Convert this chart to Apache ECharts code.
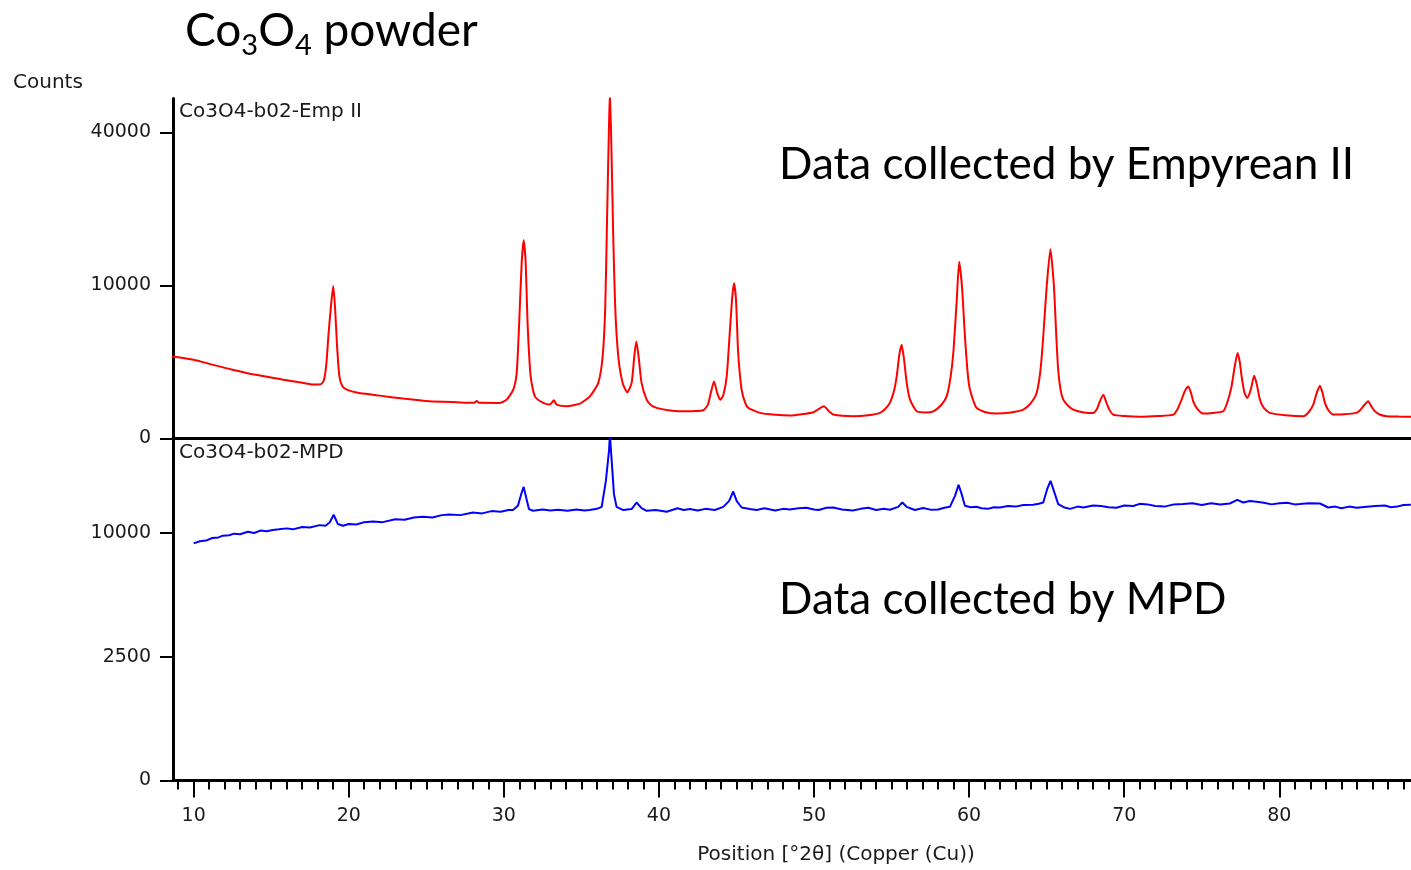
<!DOCTYPE html>
<html>
<head>
<meta charset="utf-8">
<title>Co3O4 powder</title>
<script src="https://cdn.jsdelivr.net/npm/echarts@6.0.0/dist/echarts.min.js"></script>
<style>
html, body { margin: 0; padding: 0; background: #fff; }
#main { width: 1411px; height: 870px; }
</style>
</head>
<body>
<div id="main"></div>
<script>
// [2theta, counts]
var empPoints = [
  [8.6, 2870], [10.0, 2650], [11.2, 2330], [12.5, 2020], [14.0, 1730],
  [15.8, 1475], [17.0, 1330], [17.7, 1250], [18.2, 1260], [18.4, 1450],
  [18.56, 2400], [18.7, 4700], [18.85, 7400], [19.0, 9940], [19.12, 7300],
  [19.25, 3600], [19.4, 1650], [19.6, 1150], [19.88, 1020], [20.5, 900],
  [22.0, 785], [23.5, 680], [25.2, 590], [27.0, 560], [28.1, 545],
  [28.25, 600], [28.4, 545], [29.75, 541], [30.18, 645], [30.61, 1020],
  [30.83, 1850], [30.99, 5710], [31.15, 13150], [31.28, 16800], [31.41, 13150],
  [31.53, 5710], [31.73, 1650], [32.0, 760], [32.54, 540], [32.97, 491],
  [33.23, 622], [33.4, 491], [34.05, 443], [34.91, 520], [35.55, 760],
  [36.09, 1320], [36.37, 2870], [36.54, 7430], [36.65, 19800], [36.76, 37950],
  [36.84, 52000], [36.95, 33820], [37.05, 18010], [37.18, 7430], [37.38, 2870],
  [37.66, 1320], [37.96, 910], [38.24, 1320], [38.41, 2870], [38.54, 4020],
  [38.69, 2870], [38.88, 1320], [39.21, 645], [39.5, 470], [39.85, 400],
  [40.6, 340], [41.35, 316], [42.2, 320], [42.86, 340], [43.15, 480],
  [43.35, 900], [43.55, 1390], [43.75, 900], [43.95, 640], [44.15, 800],
  [44.37, 1650], [44.58, 5040], [44.73, 8590], [44.84, 10290], [44.97, 8200],
  [45.11, 3120], [45.33, 1020], [45.55, 560], [45.76, 400], [46.52, 280],
  [47.5, 240], [48.45, 225], [49.2, 250], [49.95, 294], [50.3, 370],
  [50.64, 443], [50.95, 320], [51.24, 244], [52.53, 211], [53.5, 230],
  [54.25, 280], [54.6, 380], [54.89, 541], [55.15, 950], [55.33, 1650],
  [55.5, 3000], [55.65, 3750], [55.8, 2700], [55.98, 1300], [56.19, 645],
  [56.62, 316], [57.2, 290], [57.69, 316], [58.2, 480], [58.55, 760],
  [58.8, 1600], [58.98, 3120], [59.19, 7815], [59.36, 13340], [59.54, 9840],
  [59.73, 4440], [59.88, 2100], [60.01, 1160], [60.25, 640], [60.48, 400],
  [61.0, 300], [61.77, 265], [62.7, 290], [63.49, 357], [63.95, 520],
  [64.35, 886], [64.6, 2000], [64.78, 4440], [65.0, 9840], [65.24, 15280],
  [65.47, 9840], [65.62, 4500], [65.74, 2020], [65.9, 1000], [66.07, 645],
  [66.4, 450], [66.71, 357], [67.4, 290], [68.0, 280], [68.25, 380],
  [68.43, 590], [68.65, 822], [68.86, 541], [69.05, 350], [69.29, 244],
  [70.0, 215], [71.01, 200], [72.2, 215], [73.16, 244], [73.45, 380],
  [73.7, 645], [73.92, 980], [74.13, 1160], [74.3, 900], [74.45, 590],
  [74.7, 380], [75.09, 265], [75.7, 280], [76.38, 316], [76.65, 560],
  [76.92, 1160], [77.12, 2200], [77.31, 3120], [77.45, 2500], [77.57, 1650],
  [77.75, 900], [77.93, 703], [78.15, 1000], [78.38, 1685], [78.55, 1250],
  [78.75, 645], [79.0, 400], [79.39, 280], [80.4, 230], [81.54, 211],
  [81.9, 300], [82.19, 491], [82.42, 900], [82.62, 1190], [82.78, 900],
  [82.94, 541], [83.15, 350], [83.48, 244], [84.2, 250], [84.98, 280],
  [85.2, 340], [85.41, 443], [85.73, 590], [85.95, 430], [86.16, 316],
  [86.5, 240], [86.92, 211], [87.7, 205], [88.5, 200]
];

var mpdPoints = [
  [10.0, 9180], [10.4, 9350], [10.8, 9400], [11.2, 9600], [11.6, 9650],
  [11.89, 9790], [12.3, 9820], [12.6, 9950], [13.0, 9900], [13.5, 10100],
  [13.9, 10000], [14.3, 10200], [14.7, 10150], [15.11, 10245], [15.5, 10300],
  [16.0, 10380], [16.4, 10300], [17.0, 10500], [17.5, 10450], [18.12, 10650],
  [18.5, 10600], [18.77, 10870], [19.03, 11530], [19.3, 10740], [19.63, 10600],
  [20.0, 10750], [20.5, 10700], [21.0, 10900], [21.56, 10960], [22.2, 10900],
  [23.0, 11150], [23.6, 11100], [24.2, 11300], [24.78, 11360], [25.4, 11300],
  [26.0, 11500], [26.5, 11550], [27.2, 11500], [28.01, 11730], [28.6, 11650],
  [29.2, 11850], [29.8, 11800], [30.3, 11950], [30.59, 11940], [30.91, 12320],
  [31.12, 13390], [31.28, 14080], [31.44, 13080], [31.62, 12030], [31.88, 11880],
  [32.5, 12000], [33.0, 11900], [33.5, 11980], [34.1, 11880], [34.7, 12000],
  [35.2, 11900], [35.53, 11940], [36.0, 12050], [36.31, 12230], [36.58, 14660],
  [36.78, 17740], [36.84, 19500], [36.97, 16340], [37.1, 13390], [37.27, 12230],
  [37.7, 11940], [38.24, 12030], [38.56, 12620], [38.88, 12120], [39.21, 11880],
  [39.8, 11950], [40.5, 11800], [41.2, 12100], [41.6, 11950], [42.0, 12030],
  [42.5, 11900], [43.0, 12050], [43.6, 11950], [44.15, 12230], [44.53, 12770],
  [44.79, 13640], [45.01, 12770], [45.33, 12170], [45.86, 12030], [46.3, 11950],
  [46.8, 12100], [47.5, 11900], [48.0, 12050], [48.45, 11990], [49.0, 12100],
  [49.5, 12150], [50.0, 12000], [50.3, 11950], [50.8, 12150], [51.24, 12170],
  [51.8, 12000], [52.5, 11900], [53.0, 12050], [53.5, 12150], [54.0, 11950],
  [54.5, 12050], [54.89, 11970], [55.43, 12230], [55.69, 12620], [55.97, 12230],
  [56.5, 11950], [57.04, 12120], [57.5, 11980], [58.0, 12000], [58.4, 12150],
  [58.76, 12230], [59.09, 13230], [59.32, 14280], [59.52, 13390], [59.73, 12320],
  [60.1, 12200], [60.48, 12230], [60.8, 12100], [61.2, 12050], [61.6, 12200],
  [61.99, 12170], [62.5, 12300], [63.0, 12250], [63.5, 12400], [64.13, 12410],
  [64.5, 12500], [64.78, 12620], [65.03, 13860], [65.25, 14660], [65.47, 13670],
  [65.74, 12480], [66.1, 12200], [66.5, 12050], [67.0, 12250], [67.36, 12170],
  [68.0, 12350], [68.5, 12300], [69.0, 12200], [69.5, 12150], [70.0, 12350],
  [70.58, 12300], [71.0, 12500], [71.5, 12450], [72.0, 12300], [72.6, 12250],
  [73.2, 12450], [73.8, 12480], [74.4, 12550], [75.0, 12400], [75.6, 12550],
  [76.2, 12450], [76.81, 12530], [77.29, 12860], [77.67, 12620], [78.1, 12750],
  [78.54, 12680], [79.0, 12600], [79.5, 12450], [80.0, 12550], [80.5, 12600],
  [81.0, 12450], [81.33, 12480], [81.9, 12550], [82.62, 12530], [83.15, 12170],
  [83.6, 12250], [84.0, 12100], [84.5, 12250], [85.0, 12150], [85.63, 12230],
  [86.2, 12300], [86.8, 12350], [87.2, 12200], [87.6, 12250], [88.0, 12400],
  [88.48, 12410]
];

var xTicks = [10, 20, 30, 40, 50, 60, 70, 80];
var empTicks = [0, 10000, 40000];
var mpdTicks = [0, 2500, 10000];

var xMin = 8.67, xMax = 88.49;
var empMax = 49370;
var mpdMax = 19100;

// counts are shown on a square-root scale
function sq(points) {
  return points.map(function (p) { return [p[0], Math.sqrt(p[1])]; });
}
var minorTicks = [];
for (var d = 9; d <= 88; d++) minorTicks.push(d);

var smallFont = 'DejaVu Sans';
var bigFont = 'Lato';
var ink = '#1a1a1a';

function yAxis(grid, max, ticks) {
  var vals = ticks.map(Math.sqrt);
  return {
    type: 'value', gridIndex: grid, min: 0, max: Math.sqrt(max),
    axisLine: { show: true, lineStyle: { color: '#000', width: 3 } },
    axisTick: { show: true, customValues: vals, length: 13, lineStyle: { color: '#000', width: 2 } },
    axisLabel: {
      customValues: vals, margin: 22, fontSize: 19, color: ink, fontFamily: smallFont,
      formatter: function (v) { return String(Math.round(v * v)); }
    },
    splitLine: { show: false }
  };
}

function plainX(grid, pos, width) {
  return {
    type: 'value', gridIndex: grid, position: pos, min: xMin, max: xMax,
    axisLine: { show: true, lineStyle: { color: '#000', width: width } },
    axisTick: { show: false }, axisLabel: { show: false }, splitLine: { show: false }
  };
}

var chart = echarts.init(document.getElementById('main'));
chart.setOption({
  animation: false,
  title: {
    text: '{a|Co}{s|3}{a|O}{s|4}{a| powder}',
    left: 180, top: 3,
    textStyle: {
      rich: {
        a: { fontSize: 46, fontFamily: bigFont, fontWeight: 'normal', color: '#000', verticalAlign: 'bottom', padding: [0, 0, 6, 0] },
        s: { fontSize: 29, fontFamily: bigFont, fontWeight: 'normal', color: '#000', verticalAlign: 'bottom' }
      }
    }
  },
  grid: [
    { left: 173, right: 0, top: 98.5, height: 340 },
    { left: 173, right: 0, top: 438.5, height: 342 }
  ],
  xAxis: [
    plainX(0, 'top', 3),
    plainX(0, 'bottom', 2),
    {
      type: 'value', gridIndex: 1, position: 'bottom', min: xMin, max: xMax,
      axisLine: { show: true, lineStyle: { color: '#000', width: 3 } },
      axisTick: { show: true, customValues: xTicks, length: 17, lineStyle: { color: '#000', width: 2 } },
      axisLabel: { customValues: xTicks, margin: 26, fontSize: 19, color: ink, fontFamily: smallFont },
      splitLine: { show: false }
    },
    {
      type: 'value', gridIndex: 1, position: 'bottom', min: xMin, max: xMax,
      axisLine: { show: false },
      axisTick: { show: true, customValues: minorTicks, length: 9, lineStyle: { color: '#000', width: 2 } },
      axisLabel: { show: false }, splitLine: { show: false }
    }
  ],
  yAxis: [
    yAxis(0, empMax, empTicks),
    yAxis(1, mpdMax, mpdTicks)
  ],
  series: [
    {
      name: 'Co3O4-b02-Emp II', type: 'line', xAxisIndex: 0, yAxisIndex: 0,
      data: sq(empPoints), showSymbol: false, clip: true, smooth: 0.2,
      lineStyle: { color: '#ff0000', width: 2 }
    },
    {
      name: 'Co3O4-b02-MPD', type: 'line', xAxisIndex: 2, yAxisIndex: 1,
      data: sq(mpdPoints), showSymbol: false, clip: true,
      lineStyle: { color: '#0000ff', width: 2 }
    }
  ],
  graphic: [
    { type: 'text', x: 13, y: 83, style: { text: 'Counts', font: '20px "DejaVu Sans"', fill: ink, textVerticalAlign: 'middle' } },
    { type: 'text', x: 179, y: 112, style: { text: 'Co3O4-b02-Emp II', font: '20px "DejaVu Sans"', fill: ink, textVerticalAlign: 'middle' } },
    { type: 'text', x: 179, y: 453, style: { text: 'Co3O4-b02-MPD', font: '20px "DejaVu Sans"', fill: ink, textVerticalAlign: 'middle' } },
    { type: 'text', x: 779, y: 165, style: { text: 'Data collected by Empyrean II', font: '44px Lato', fill: '#000', textVerticalAlign: 'middle' } },
    { type: 'text', x: 779, y: 600, style: { text: 'Data collected by MPD', font: '44px Lato', fill: '#000', textVerticalAlign: 'middle' } },
    { type: 'text', x: 836, y: 855, style: { text: 'Position [°2θ] (Copper (Cu))', font: '20px "DejaVu Sans"', fill: ink, textAlign: 'center', textVerticalAlign: 'middle' } }
  ]
});
</script>
</body>
</html>
